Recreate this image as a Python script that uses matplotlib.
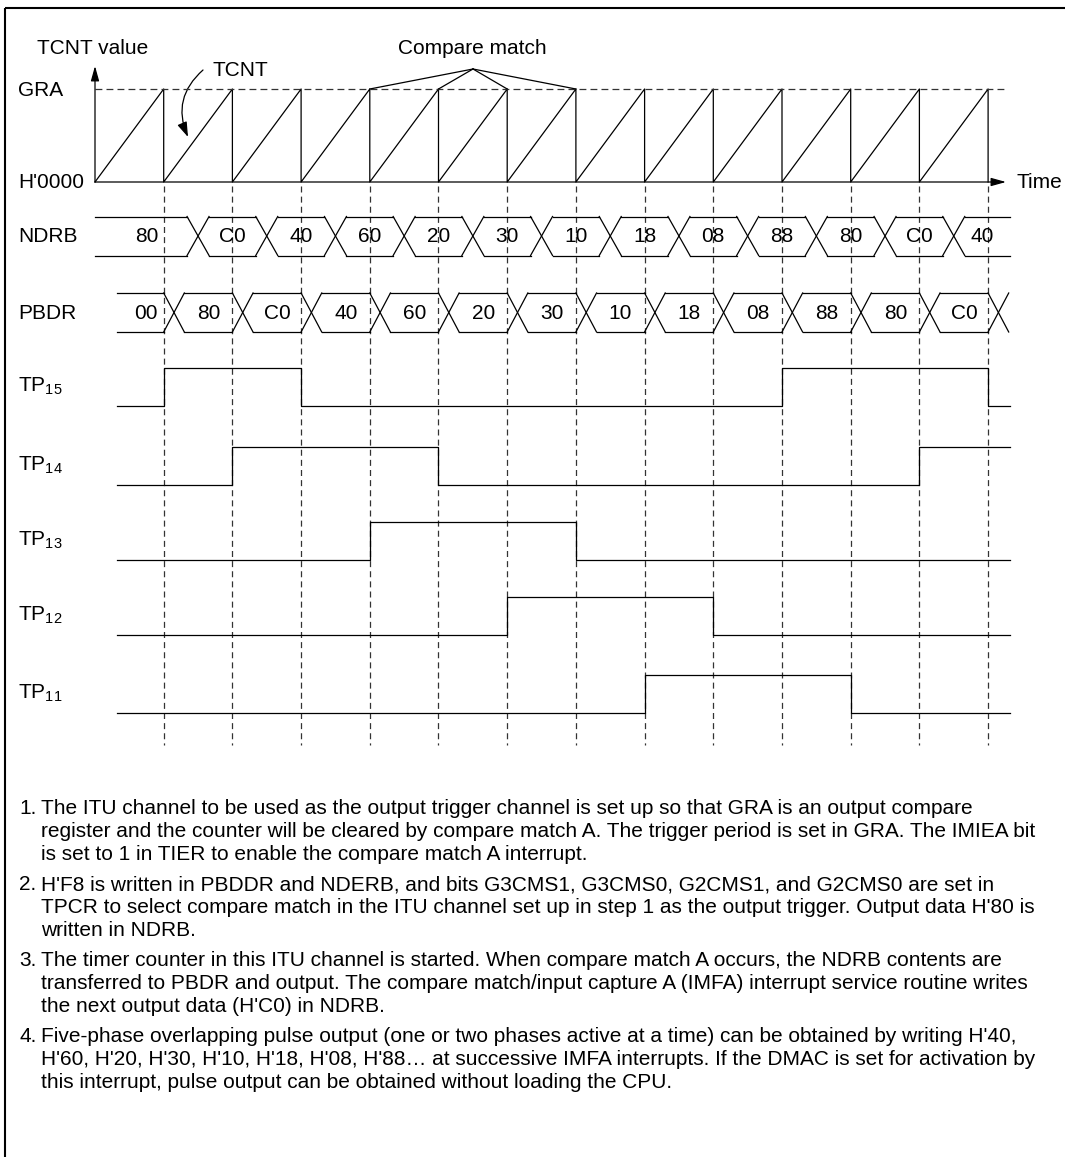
import matplotlib
matplotlib.use('Agg')
import matplotlib.pyplot as plt
from matplotlib.patches import FancyArrowPatch

plt.rcParams['font.family'] = ['Liberation Sans', 'DejaVu Sans']
plt.rcParams['mathtext.fontset'] = 'custom'
plt.rcParams['mathtext.rm'] = 'Liberation Sans'

# ---- data ----
n_periods = 13                       # compare matches shown on the time axis
compare_match_marked = [4, 5, 6, 7]  # peaks pointed at by "Compare match"
ndrb_values = ['80', 'C0', '40', '60', '20', '30', '10', '18', '08', '88', '80', 'C0', '40']
pbdr_values = ['00', '80', 'C0', '40', '60', '20', '30', '10', '18', '08', '88', '80', 'C0']
pbdr_next = '40'                     # latched at the last compare match
tp_labels = ['TP$_{15}$', 'TP$_{14}$', 'TP$_{13}$', 'TP$_{12}$', 'TP$_{11}$']
tp_masks = [0x80, 0x40, 0x20, 0x10, 0x08]

notes = [
    ['1.', ['The ITU channel to be used as the output trigger channel is set up so that GRA is an output compare',
            'register and the counter will be cleared by compare match A. The trigger period is set in GRA. The IMIEA bit',
            'is set to 1 in TIER to enable the compare match A interrupt.']],
    ['2.', ["H'F8 is written in PBDDR and NDERB, and bits G3CMS1, G3CMS0, G2CMS1, and G2CMS0 are set in",
            "TPCR to select compare match in the ITU channel set up in step 1 as the output trigger. Output data H'80 is",
            'written in NDRB.']],
    ['3.', ['The timer counter in this ITU channel is started. When compare match A occurs, the NDRB contents are',
            'transferred to PBDR and output. The compare match/input capture A (IMFA) interrupt service routine writes',
            "the next output data (H'C0) in NDRB."]],
    ['4.', ["Five-phase overlapping pulse output (one or two phases active at a time) can be obtained by writing H'40,",
            "H'60, H'20, H'30, H'10, H'18, H'08, H'88\u2026 at successive IMFA interrupts. If the DMAC is set for activation by",
            'this interrupt, pulse output can be obtained without loading the CPU.']],
]

# ---- layout (pixels, time measured in compare-match periods) ----
W, H = 1065, 1157
X0, PER = 95.0, 68.7
GRA_Y, ZERO_Y = 89, 182
NDRB_Y, PBDR_Y, BUS_H = 236, 312.5, 19.5
TP_LOW = [406, 485, 560, 635, 713]
TP_HIGH = 38
FS = 15
LW = 0.9
DASH = '#333333'


def tx(px):
    return (px - X0) / PER


fig = plt.figure(figsize=(W / 100, H / 100), dpi=100)
ax = fig.add_axes([0, 0, 1, 1])
ax.set_xlim(tx(0), tx(W))
ax.set_ylim(H, 0)
ax.axis('off')

# frame (top and left edge)
ax.plot([tx(5), tx(W)], [8, 8], color='k', lw=1.5, solid_capstyle='butt')
ax.plot([tx(5), tx(5)], [8, H], color='k', lw=1.5, solid_capstyle='butt')

# ---- TCNT sawtooth ----
saw_x, saw_y = [0], [ZERO_Y]
for k in range(n_periods):
    saw_x += [k + 1, k + 1]
    saw_y += [GRA_Y, ZERO_Y]
ax.plot(saw_x, saw_y, color='k', lw=LW)
ax.plot([0, tx(1007)], [GRA_Y, GRA_Y], color=DASH, lw=LW, ls=(0, (5.5, 3.3)))

arrow = dict(arrowstyle='-|>,head_length=0.9,head_width=0.25', color='k', lw=LW,
             shrinkA=0, shrinkB=0, mutation_scale=10)
ax.annotate('', xy=(0, 66), xytext=(0, ZERO_Y), arrowprops=arrow)
ax.annotate('', xy=(tx(1006), ZERO_Y), xytext=(0, ZERO_Y), arrowprops=arrow)

ax.text(tx(37), 48, 'TCNT value', fontsize=FS, va='center', ha='left')
ax.text(tx(18), 91, 'GRA', fontsize=FS, va='center', ha='left')
ax.text(tx(18), 183, "H'0000", fontsize=FS, va='center', ha='left')
ax.text(tx(1017), 183, 'Time', fontsize=FS, va='center', ha='left')

ax.text(tx(213), 71, 'TCNT', fontsize=FS, va='center', ha='left')
ax.add_patch(FancyArrowPatch((tx(203), 70), (tx(188), 137), connectionstyle='arc3,rad=0.36',
                             arrowstyle='-|>,head_length=0.9,head_width=0.3', mutation_scale=10,
                             color='k', lw=LW, shrinkA=0, shrinkB=0))

ax.text(tx(398), 48, 'Compare match', fontsize=FS, va='center', ha='left')
for k in compare_match_marked:
    ax.plot([tx(473), k], [69, GRA_Y], color='k', lw=LW)

# compare match instants
for k in range(1, n_periods + 1):
    ax.plot([k, k], [186, 745], color=DASH, lw=LW, ls=(0, (4.8, 3.3)))


# ---- register buses ----
def bus(values, start, edges, end, hw, yc, label):
    top, bot = yc - BUS_H, yc + BUS_H
    bounds = [start] + edges
    for i, v in enumerate(values):
        a = bounds[i] + (hw if i > 0 else 0)
        b = bounds[i + 1] - hw if i + 1 < len(bounds) else end
        ax.plot([a, b], [top, top], color='k', lw=LW)
        ax.plot([a, b], [bot, bot], color='k', lw=LW)
        mid = (bounds[i] + (bounds[i + 1] if i + 1 < len(bounds) else end)) / 2
        ax.text(mid, yc + 1, v, fontsize=FS, ha='center', va='center')
    for c in edges:
        ax.plot([c - hw, c + hw], [top, bot], color='k', lw=LW)
        ax.plot([c - hw, c + hw], [bot, top], color='k', lw=LW)
    ax.text(tx(18), yc + 1, label, fontsize=FS, va='center', ha='left')


t_end = tx(1010)
bus(ndrb_values, 0, [k + 0.5 for k in range(1, len(ndrb_values))], t_end, 0.16, NDRB_Y, 'NDRB')
pb_hw = 0.15
bus(pbdr_values, tx(117), [k + pb_hw for k in range(1, len(pbdr_values) + 1)], t_end, pb_hw,
    PBDR_Y, 'PBDR')

# ---- pulse outputs follow PBDR bits ----
latched = pbdr_values + [pbdr_next]
for lab, mask, low in zip(tp_labels, tp_masks, TP_LOW):
    xs = [tx(117)] + list(range(1, len(latched))) + [t_end]
    lv = [low - TP_HIGH * bool(int(v, 16) & mask) for v in latched]
    ys = lv + [lv[-1]]
    ax.plot(xs, ys, color='k', lw=LW, drawstyle='steps-post')
    ax.text(tx(18), low - 20, lab, fontsize=FS, va='center', ha='left')

# ---- notes ----
y = 809
for num, lines in notes:
    ax.text(tx(19), y, num, fontsize=FS, va='center', ha='left')
    for ln in lines:
        ax.text(tx(41), y, ln, fontsize=FS, va='center', ha='left')
        y += 22.5
    y += 8.5

fig.savefig('out.png', dpi=100)
